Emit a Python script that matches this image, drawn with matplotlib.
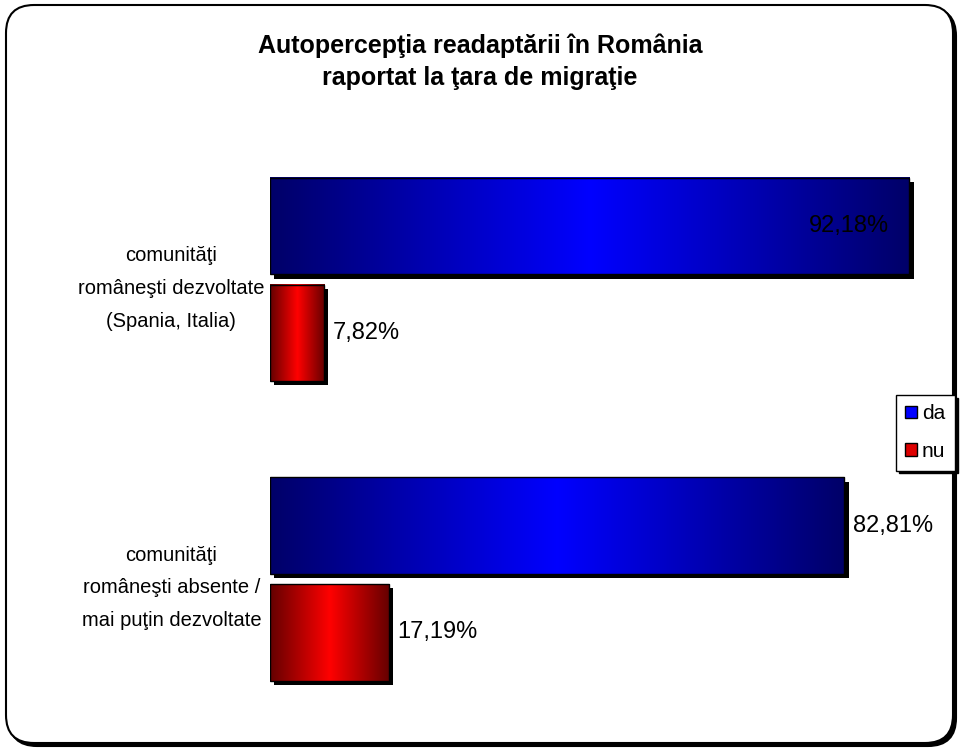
import numpy as np
import matplotlib
matplotlib.use("Agg")
import matplotlib.pyplot as plt
from matplotlib.colors import LinearSegmentedColormap
from matplotlib.patches import FancyBboxPatch, Patch
import matplotlib.patheffects as pe

plt.rcParams['font.family'] = ['Liberation Sans', 'DejaVu Sans']

# date
categorii = ["comunităţi\nromâneşti dezvoltate\n(Spania, Italia)",
             "comunităţi\nromâneşti absente /\nmai puţin dezvoltate"]
serii = ["da", "nu"]
val_da = [92.18, 82.81]
val_nu = [7.82, 17.19]
etichete_da = ["92,18%", "82,81%"]
etichete_nu = ["7,82%", "17,19%"]

titlu = "Autopercepţia readaptării în România\nraportat la ţara de migraţie"

cmap_da = LinearSegmentedColormap.from_list("da", ["#000068", "#0000ff", "#000068"])
cmap_nu = LinearSegmentedColormap.from_list("nu", ["#640000", "#ff0000", "#640000"])

fig = plt.figure(figsize=(9.62, 7.49), dpi=100)

# chenar rotunjit cu umbra
umbra = FancyBboxPatch((0.09, 0.03), 9.47, 7.38,
                       boxstyle="round,pad=0,rounding_size=0.28",
                       transform=fig.dpi_scale_trans, fc="black", ec="black", lw=1.5, zorder=-3)
chenar = FancyBboxPatch((0.06, 0.06), 9.47, 7.38,
                        boxstyle="round,pad=0,rounding_size=0.28",
                        transform=fig.dpi_scale_trans, fc="white", ec="black", lw=1.5, zorder=-2)
fig.patches.extend([umbra, chenar])

ax = fig.add_axes([270 / 962, 39 / 749, 659 / 962, 560 / 749])
ax.set_facecolor("none")

y = np.arange(len(categorii))
h = 0.322
off = 0.178

umbra_fx = [pe.SimplePatchShadow(offset=(3, -3), shadow_rgbFace="black", alpha=1), pe.Normal()]

bare_da = ax.barh(y - off, val_da, height=h, color="black", zorder=1, path_effects=umbra_fx)
bare_nu = ax.barh(y + off, val_nu, height=h, color="black", zorder=1, path_effects=umbra_fx)

grad = np.linspace(0, 1, 256).reshape(1, -1)
for bare, cm in [(bare_da, cmap_da), (bare_nu, cmap_nu)]:
    for b in bare:
        x0, y0, w, hh = b.get_x(), b.get_y(), b.get_width(), b.get_height()
        ax.imshow(grad, cmap=cm, aspect="auto", extent=(x0, x0 + w, y0 + hh, y0),
                  zorder=2, interpolation="bilinear")

ax.barh(y - off, val_da, height=h, fc="none", ec="black", lw=1, zorder=3)
ax.barh(y + off, val_nu, height=h, fc="none", ec="black", lw=1, zorder=3)

# etichete valori
for i, (v, t) in enumerate(zip(val_da, etichete_da)):
    if v > 90:
        ax.annotate(t, (v, y[i] - off), xytext=(-15, 0), textcoords="offset points",
                    ha="right", va="center", fontsize=17, zorder=4)
    else:
        ax.annotate(t, (v, y[i] - off), xytext=(6, 0), textcoords="offset points",
                    ha="left", va="center", fontsize=17, zorder=4)
for i, (v, t) in enumerate(zip(val_nu, etichete_nu)):
    ax.annotate(t, (v, y[i] + off), xytext=(6, 0), textcoords="offset points",
                ha="left", va="center", fontsize=17, zorder=4)

ax.set_xlim(0, 95)
ax.set_ylim((710 - 279.5) / 299.5, (150 - 279.5) / 299.5)
ax.set_xticks([])
ax.set_yticks(y)
ax.set_yticklabels(categorii, fontsize=14.5, ha="center",
                   multialignment="center", linespacing=1.93)
ax.tick_params(axis="y", length=0, pad=71)
for s in ax.spines.values():
    s.set_visible(False)

fig.text(480 / 962, 1 - 62 / 749, titlu, ha="center", va="center", fontsize=18,
         fontweight="bold", linespacing=1.4)

manere = [Patch(fc="#0000ff", ec="black", lw=1), Patch(fc="#dd0000", ec="black", lw=1)]
fig.legend(manere, serii, loc="upper left", bbox_to_anchor=(896 / 962, 1 - 395 / 749),
           fontsize=15, frameon=True, fancybox=False,
           edgecolor="black", framealpha=1,
           shadow={"color": "black", "alpha": 1}, handlelength=0.55, handleheight=0.55,
           handletextpad=0.25, labelspacing=0.9, borderpad=0.45, borderaxespad=0)

fig.savefig("out.png", dpi=100)
